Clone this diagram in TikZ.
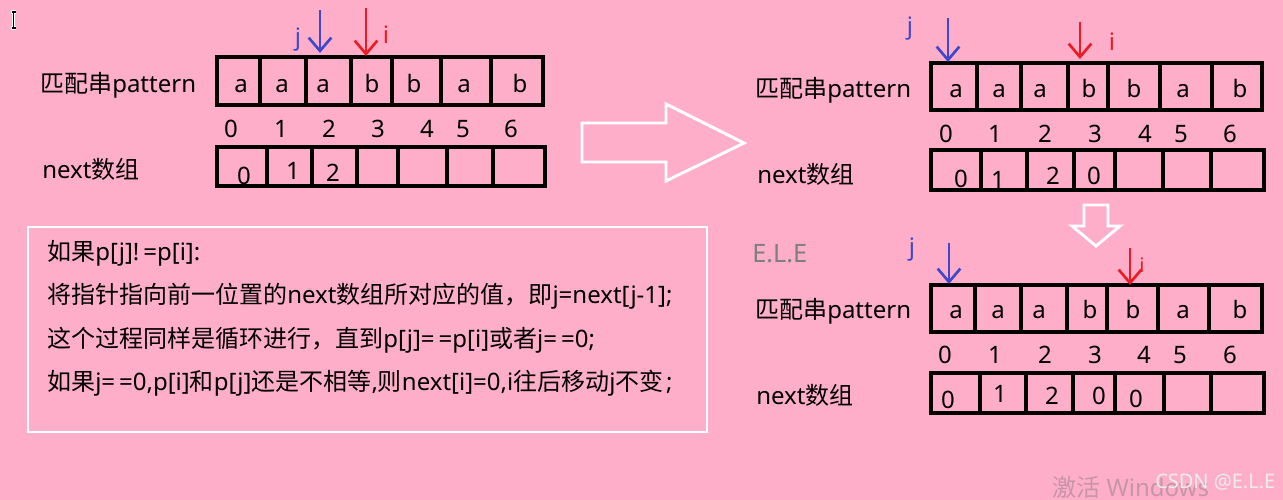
\documentclass[tikz,border=0pt]{standalone}
\usepackage{fontspec}
\setmainfont{Noto Sans}
\newfontfamily\cjk{Noto Sans CJK SC}
\usepackage{xcolor}
\usetikzlibrary{arrows.meta,positioning}

\definecolor{bgpink}{RGB}{255,174,201}
\definecolor{ptrblue}{RGB}{63,72,204}
\definecolor{ptrred}{RGB}{237,28,36}
\definecolor{elegray}{RGB}{127,127,127}
\definecolor{winmark}{RGB}{196,150,168}

\tikzset{
  txt/.style={font=\fontsize{18}{22}\selectfont,inner sep=0pt},
  grid/.style={line width=2.3pt},
  ptr/.style={line width=2pt,-{Straight Barb[length=10pt,width=17pt]}},
  hollow/.style={draw=white,line width=2.2pt,line join=miter},
}

\begin{document}
\begin{tikzpicture}[x=0.75pt,y=-0.75pt]
\useasboundingbox (0,0) rectangle (1283,500);
\fill[bgpink] (0,0) rectangle (1283,500);

% cursor
\draw[white,line width=2.6pt] (13.5,12)--(13.5,28) (11,12)--(16,12) (11,28)--(16,28);
\draw[black,line width=1.1pt] (13.5,12)--(13.5,28) (11.5,12)--(15.5,12) (11.5,28)--(15.5,28);

% before: i=3, j=2
\node[txt,anchor=base west] (A-lblp) at (40,92) {{\cjk 匹配串}pattern};
\draw[grid] (217,57) rectangle (543,105);
\foreach \x in {260,306,351,392,441,491} \draw[grid] (\x,57)--(\x,105);
\foreach \x/\c [count=\k from 0] in {241/a,282/a,323/a,372/b,414/b,464/a,520/b}
  \node[txt,anchor=base] (A-p\k) at (\x,92) {\c};
\foreach \x [count=\k from 0] in {231,281,329,378,427,463,511}
  \node[txt,anchor=base] (A-i\k) at (\x,137) {\k};
\node[txt,anchor=base west] (A-lbln) at (42,178) {next{\cjk 数组}};
\draw[grid] (217,147) rectangle (545,186);
\foreach \x in {267,312,357,398,447,493} \draw[grid] (\x,147)--(\x,186);
\foreach \x/\y/\v [count=\k] in {244/184/0,293/179/1,333/181/2}
  \node[txt,anchor=base] (A-n\k) at (\x,\y) {\v};
\coordinate (A-jt) at (320,10); \coordinate (A-jh) at (320,53);
\coordinate (A-it) at (366,8);  \coordinate (A-ih) at (366,56);
\draw[ptr,ptrblue] (A-jt)--(A-jh);
\draw[ptr,ptrred] (A-it)--(A-ih);
\node[txt,anchor=base,ptrblue] (A-j) at (298,45) {j};
\node[txt,anchor=base,ptrred] (A-i) at (386,43) {i};

% big arrow
\draw[hollow] (582,123)--(666,123)--(666,104)--(744,143)--(666,181)--(666,162)--(582,162)--cycle;

% after step: j=0, next[3]=0
\node[txt,anchor=base west] (B-lblp) at (755,97) {{\cjk 匹配串}pattern};
\draw[grid] (931,63) rectangle (1262,110);
\foreach \x in {977,1021,1068,1108,1160,1212} \draw[grid] (\x,63)--(\x,110);
\foreach \x/\c [count=\k from 0] in {956/a,999/a,1040/a,1089/b,1134/b,1183/a,1240/b}
  \node[txt,anchor=base] (B-p\k) at (\x,97) {\c};
\foreach \x [count=\k from 0] in {946,995,1045,1095,1145,1181,1230}
  \node[txt,anchor=base] (B-i\k) at (\x,142) {\k};
\node[txt,anchor=base west] (B-lbln) at (757,183) {next{\cjk 数组}};
\draw[grid] (931,150) rectangle (1264,190);
\foreach \x in {981,1027,1074,1115,1163,1211} \draw[grid] (\x,150)--(\x,190);
\foreach \x/\y/\v [count=\k] in {961/187/0,998/188/1,1053/184/2,1094/184/0}
  \node[txt,anchor=base] (B-n\k) at (\x,\y) {\v};
\coordinate (B-jt) at (948,18);  \coordinate (B-jh) at (948,62);
\coordinate (B-it) at (1080,22); \coordinate (B-ih) at (1080,59);
\draw[ptr,ptrblue] (B-jt)--(B-jh);
\draw[ptr,ptrred] (B-it)--(B-ih);
\node[txt,anchor=base,ptrblue] (B-j) at (910,34) {j};
\node[txt,anchor=base,ptrred] (B-i) at (1112,50) {i};

% small arrow
\draw[hollow] (1084,205)--(1108,205)--(1108,226)--(1120,226)--(1096,246)--(1072,226)--(1084,226)--cycle;

\node[txt,anchor=base west,elegray,font=\fontsize{19}{22}\selectfont] (ele) at (752,262) {E.L.E};

% next: i=4, j=0
\node[txt,anchor=base west] (C-lblp) at (755,318) {{\cjk 匹配串}pattern};
\draw[grid] (931,285) rectangle (1262,332);
\foreach \x in {975,1021,1067,1107,1158,1209} \draw[grid] (\x,285)--(\x,332);
\foreach \x/\c [count=\k from 0] in {956/a,998/a,1039/a,1090/b,1133/b,1183/a,1240/b}
  \node[txt,anchor=base] (C-p\k) at (\x,318) {\c};
\foreach \x [count=\k from 0] in {945,995,1045,1095,1144,1180,1230}
  \node[txt,anchor=base] (C-i\k) at (\x,363) {\k};
\node[txt,anchor=base west] (C-lbln) at (756,404) {next{\cjk 数组}};
\draw[grid] (931,373) rectangle (1264,413);
\foreach \x in {980,1026,1073,1115,1164,1211} \draw[grid] (\x,373)--(\x,413);
\foreach \x/\y/\v [count=\k] in {948/408/0,1000/402/1,1052/404/2,1099/404/0,1136/407/0}
  \node[txt,anchor=base] (C-n\k) at (\x,\y) {\v};
\coordinate (C-jt) at (949,243);  \coordinate (C-jh) at (949,284);
\coordinate (C-it) at (1130,248); \coordinate (C-ih) at (1130,285);
\draw[ptr,ptrblue] (C-jt)--(C-jh);
\draw[ptr,ptrred] (C-it)--(C-ih);
\node[txt,anchor=base,ptrblue] (C-j) at (912,255) {j};
\node[txt,anchor=base,ptrred,font=\fontsize{15}{18}\selectfont] (C-i) at (1142,272) {i};

% rule box
\draw[white,line width=2.2pt] (28,227) rectangle (707,432);
\node[txt,anchor=base west] (note1) at (47,260) {{\cjk 如果}p[j]!\kern3pt=p[i]:};
\node[txt,anchor=base west] (note2) at (47,303) {{\cjk 将指针指向前一位置的}next{\cjk 数组所对应的值，即}j=next[j-1];};
\node[txt,anchor=base west] (note3) at (47,347) {{\cjk 这个过程同样是循环进行，直到}p[j]=\kern3pt=p[i]{\cjk 或者}j=\kern3pt=0;};
\node[txt,anchor=base west] (note4) at (47,390) {{\cjk 如果}j=\kern3pt=0,p[i]{\cjk 和}p[j]{\cjk 还是不相等},{\cjk 则}next[i]=0,i{\cjk 往后移动}j{\cjk 不变}\kern2pt;};

% watermarks
\node[txt,anchor=base west,winmark] (win) at (1052,496) {{\cjk 激活} Windows};
\node[txt,anchor=base west,white!85!gray,font=\fontsize{15}{18}\selectfont] (csdn) at (1155,488) {CSDN @E.L.E};
\end{tikzpicture}
\end{document}
